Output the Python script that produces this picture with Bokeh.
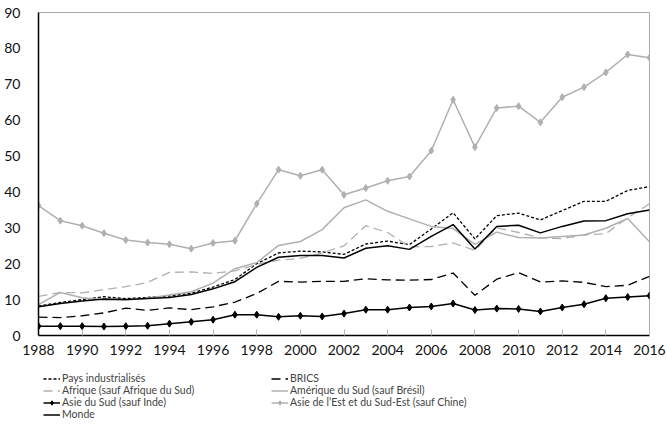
from bokeh.plotting import figure
from bokeh.models import Legend, LegendItem, FixedTicker, Range1d
from bokeh.layouts import column
from bokeh.embed import file_html
from bokeh.resources import INLINE

years = list(range(1988, 2017))

pays_ind = [8.2, 9.2, 10.0, 10.8, 10.3, 10.6, 11.0, 11.8, 13.5, 15.6, 20.0, 23.0, 23.5, 23.3, 22.6,
            25.5, 26.3, 25.3, 29.7, 34.2, 26.9, 33.4, 34.1, 32.2, 34.8, 37.4, 37.4, 40.4, 41.5]
brics = [5.1, 5.0, 5.5, 6.3, 7.6, 7.0, 7.7, 7.2, 8.0, 9.3, 11.7, 15.1, 14.9, 15.1, 15.1,
         15.8, 15.5, 15.4, 15.6, 17.4, 11.2, 15.7, 17.5, 14.9, 15.2, 14.8, 13.6, 14.0, 16.5]
afrique = [10.9, 12.0, 11.9, 12.8, 13.6, 14.8, 17.6, 17.7, 17.3, 18.0, 19.8, 21.0, 21.5, 23.0, 25.0,
           30.6, 28.7, 24.7, 24.8, 25.8, 23.7, 30.0, 28.7, 27.2, 27.0, 28.0, 28.4, 32.8, 36.7]
amerique = [8.6, 12.0, 10.5, 9.9, 9.9, 10.4, 11.3, 12.2, 14.6, 18.6, 20.3, 25.1, 26.2, 29.5, 35.6,
            37.8, 34.6, 32.5, 30.4, 29.8, 25.4, 28.8, 27.3, 27.2, 27.6, 28.0, 29.9, 32.6, 26.1]
asie_sud = [2.6, 2.6, 2.6, 2.5, 2.6, 2.7, 3.3, 3.8, 4.4, 5.8, 5.8, 5.2, 5.5, 5.3, 6.1,
            7.2, 7.2, 7.8, 8.1, 8.9, 7.1, 7.5, 7.4, 6.7, 7.8, 8.7, 10.4, 10.7, 11.1]
asie_est = [36.2, 32.0, 30.6, 28.5, 26.6, 25.9, 25.4, 24.2, 25.8, 26.4, 36.7, 46.2, 44.5, 46.2, 39.2,
            41.1, 43.1, 44.3, 51.5, 65.7, 52.5, 63.4, 63.9, 59.4, 66.4, 69.2, 73.3, 78.3, 77.4]
monde = [8.0, 8.9, 9.6, 10.2, 10.0, 10.3, 10.6, 11.4, 13.0, 15.0, 19.0, 21.8, 22.3, 22.3, 21.6,
         24.3, 25.0, 24.0, 27.6, 30.9, 24.1, 30.4, 30.7, 28.6, 30.4, 31.9, 32.0, 33.9, 35.0]

x_ticks = list(range(1988, 2017, 2))
y_ticks = list(range(0, 91, 10))

labels = ["Pays industrialisés", "BRICS", "Afrique (sauf Afrique du Sud)",
          "Amérique du Sud (sauf Brésil)", "Asie du Sud (sauf Inde)",
          "Asie de l\u2019Est et du Sud-Est (sauf Chine)", "Monde"]

FONT = "Lato"
GREY = "#b0b0b0"

styles = [
    dict(line_color="black", line_width=1.3, line_dash="3 2"),
    dict(line_color="black", line_width=1.3, line_dash="9 5"),
    dict(line_color=GREY, line_width=1.3, line_dash="9 5"),
    dict(line_color=GREY, line_width=1.5),
    dict(line_color="black", line_width=1.5),
    dict(line_color=GREY, line_width=1.5),
    dict(line_color="black", line_width=1.5),
]
marker_colors = [None, None, None, None, "black", GREY, None]
series = [pays_ind, brics, afrique, amerique, asie_sud, asie_est, monde]

# ---- main chart ----
p = figure(width=667, height=357, output_backend="svg", toolbar_location=None,
           x_range=Range1d(1988, 2016), y_range=Range1d(0, 90),
           min_border_left=38, min_border_right=18, min_border_top=12, min_border_bottom=0)
p.outline_line_color = "#a8a8a8"
p.outline_line_width = 1
p.xgrid.visible = False
p.ygrid.visible = False

p.xaxis.ticker = FixedTicker(ticks=x_ticks)
p.yaxis.ticker = FixedTicker(ticks=y_ticks)
for ax in (p.xaxis[0], p.yaxis[0]):
    ax.axis_line_color = "black"
    ax.axis_line_width = 1.5
    ax.minor_tick_line_color = None
    ax.major_label_text_font = FONT
    ax.major_label_text_font_size = "14px"
    ax.major_label_text_color = "#111111"
p.xaxis.major_tick_in = 6
p.xaxis.major_tick_out = 0
p.xaxis.major_tick_line_color = "#b8b8b8"
p.xaxis.major_label_standoff = 9
p.yaxis.major_tick_line_color = None
p.yaxis.major_label_standoff = 12

for ys, st, mc in zip(series, styles, marker_colors):
    p.line(years, ys, **st)
    if mc is not None:
        p.scatter(years, ys, marker="diamond", size=7, color=mc)

# ---- legend strip: same series drawn outside this strip's visible range ----
q = figure(width=667, height=65, output_backend="svg", toolbar_location=None,
           x_axis_type=None, y_axis_type=None,
           x_range=Range1d(0, 1), y_range=Range1d(0, 1),
           min_border_left=38, min_border_right=18, min_border_top=0, min_border_bottom=0)
q.outline_line_color = None
q.xgrid.visible = False
q.ygrid.visible = False

items = []
for lab, ys, st, mc in zip(labels, series, styles, marker_colors):
    rs = [q.line(years, ys, **st)]
    if mc is not None:
        rs.append(q.scatter(years, ys, marker="diamond", size=6, color=mc))
    items.append(LegendItem(label=lab, renderers=rs))

legend = Legend(items=items, ncols=2, orientation="horizontal", location=(5, 2),
                label_text_font=FONT, label_text_font_size="10.5px",
                label_height=11, glyph_height=11, glyph_width=17, label_standoff=2,
                spacing=0, padding=0, margin=0, label_width=209,
                border_line_color=None, background_fill_alpha=0)
q.add_layout(legend, "center")

layout = column(p, q, spacing=0)
open("out.html", "w").write(file_html(layout, INLINE))
